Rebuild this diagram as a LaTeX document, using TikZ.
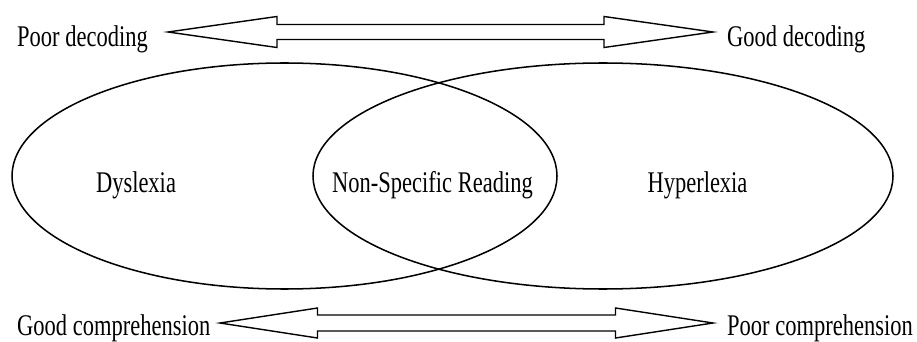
\documentclass[tikz,border=0pt]{standalone}
\usepackage{fontspec}
\setmainfont{Liberation Serif}[FakeStretch=0.75]
\usetikzlibrary{calc}

% hollow two-headed arrow: left tip, right tip, head length, head half width, shaft half width
\newcommand{\fatarrow}[5]{%
  \draw[fat] (#1) -- ++(#3,-#4) -- ++(0,#4-#5) -- ($(#2)+(-#3,-#5)$) -- ++(0,#5-#4) -- (#2)
    -- ++(-#3,#4) -- ++(0,#5-#4) -- ($(#1)+(#3,#5)$) -- ++(0,#4-#5) -- cycle;}

\begin{document}
\begin{tikzpicture}[x=0.03cm,y=-0.03cm,font=\fontsize{25.6pt}{30pt}\selectfont,
  fat/.style={line width=1.2pt,line join=miter},
  venn/.style={line width=1.3pt},
  lbl/.style={inner sep=0pt}]
  \useasboundingbox (0,0) rectangle (917,342);
  % the two sets
  \draw[venn] (284.5,176) ellipse [x radius=272.5,y radius=113];
  \draw[venn] (603,176) ellipse [x radius=290,y radius=113];
  \node[lbl,anchor=base] (dys) at (136,193) {Dyslexia};
  \node[lbl,anchor=base] (nsr) at (432.5,193) {Non-Specific Reading};
  \node[lbl,anchor=base] (hyp) at (697.5,193) {Hyperlexia};
  % decoding axis
  \node[lbl,anchor=base west] (poordec) at (17,46.5) {Poor decoding};
  \node[lbl,anchor=base west] (gooddec) at (727,46.5) {Good decoding};
  \coordinate (dl) at (168,32);
  \coordinate (dr) at (713,32);
  \fatarrow{dl}{dr}{109}{15.5}{7.5}
  % comprehension axis
  \node[lbl,anchor=base west] (goodcomp) at (17,335) {Good comprehension};
  \node[lbl,anchor=base west] (poorcomp) at (727,335) {Poor comprehension};
  \coordinate (cl) at (220,323);
  \coordinate (cr) at (713,323);
  \fatarrow{cl}{cr}{97.5}{15}{8}
\end{tikzpicture}
\end{document}
